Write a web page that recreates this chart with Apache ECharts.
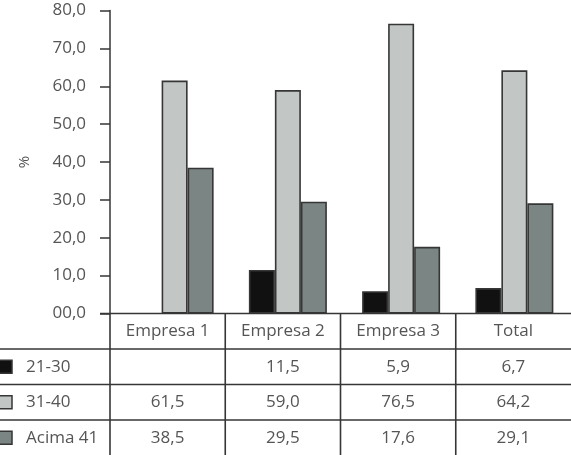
<!DOCTYPE html>
<html><head><meta charset="utf-8">
<script src="https://cdn.jsdelivr.net/npm/echarts@6/dist/echarts.min.js"></script>
<style>html,body{margin:0;padding:0;background:#fff}#c{width:571px;height:455px}</style>
</head><body><div id="c"></div>
<script>
const categories = ['Empresa 1','Empresa 2','Empresa 3','Total'];
const seriesNames = ['21-30','31-40','Acima 41'];
const s2130 = [null, 11.5, 5.9, 6.7];
const s3140 = [61.5, 59.0, 76.5, 64.2];
const sAcima = [38.5, 29.5, 17.6, 29.1];
const yTickLabels = ['00,0','10,0','20,0','30,0','40,0','50,0','60,0','70,0','80,0'];
const colors = ['#111111','#c2c7c6','#7b8684'];

const fmt = v => v == null ? '' : v.toFixed(1).replace('.', ',');
const FONT = 'Open Sans';
const TXT = '#555';
const LINE = '#363636';

const chart = echarts.init(document.getElementById('c'), null, {renderer:'canvas'});
const allSeries = [s2130, s3140, sAcima];

const W = 571, H = 455;
const plotTop = 10.5, plotBottom = 313.5, axisX = 110;
const rowH = 35.5;

const option = {
  animation:false,
  backgroundColor:'#fff',
  grid:{left:118, top:plotTop, width:461, height:plotBottom-plotTop, containLabel:false},
  xAxis:{type:'category', data:categories, axisLine:{show:false}, axisTick:{show:false}, axisLabel:{show:false}},
  yAxis:{type:'value', min:0, max:80, interval:10, offset:8,
    name:'%', nameLocation:'middle', nameGap:78, nameRotate:90,
    nameTextStyle:{color:TXT, fontFamily:FONT, fontSize:15},
    axisLine:{show:true, lineStyle:{color:LINE, width:1.5}},
    axisTick:{show:true, length:10, lineStyle:{color:LINE, width:1.5}},
    axisLabel:{margin:24, color:TXT, fontFamily:FONT, fontSize:17,
      formatter:(v)=>yTickLabels[Math.round(v/10)]},
    splitLine:{show:false}},
  series: allSeries.map((d,i)=>({
    name:seriesNames[i], type:'bar', data:d, barWidth:26, barGap:'0%',
    itemStyle:{color:colors[i], borderColor:LINE, borderWidth:1.6}
  }))
};
chart.setOption(option);

// table
const g = [];
const colW = (W - axisX)/categories.length;
const lineStyle = {stroke:LINE, lineWidth:1.6};
g.push({type:'line', shape:{x1:100, y1:plotBottom, x2:W, y2:plotBottom}, style:lineStyle, z:10});
for (let i=0;i<categories.length;i++){
  const x = axisX + i*colW;
  g.push({type:'line', shape:{x1:x, y1:plotBottom, x2:x, y2:H}, style:lineStyle, z:10});
}
for (let r=1;r<=3;r++){
  const y = plotBottom + r*rowH;
  g.push({type:'line', shape:{x1:0, y1:y, x2:W, y2:y}, style:lineStyle, z:10});
}
categories.forEach((c,i)=>{
  g.push({type:'text', x:axisX + (i+0.5)*colW, y:plotBottom + 0.5*rowH,
    style:{text:c, fill:TXT, font:'17px "'+FONT+'"', align:'center', verticalAlign:'middle'}, z:10});
});
seriesNames.forEach((n,r)=>{
  const yc = plotBottom + (r+1.5)*rowH;
  g.push({type:'rect', shape:{x:-1, y:yc-6.5, width:13, height:13},
    style:{fill:colors[r], stroke:LINE, lineWidth:1.5}, z:10});
  g.push({type:'text', x:26, y:yc,
    style:{text:n, fill:TXT, font:'17px "'+FONT+'"', align:'left', verticalAlign:'middle'}, z:10});
  allSeries[r].forEach((v,i)=>{
    g.push({type:'text', x:axisX + (i+0.5)*colW, y:yc,
      style:{text:fmt(v), fill:TXT, font:'17px "'+FONT+'"', align:'center', verticalAlign:'middle'}, z:10});
  });
});
chart.setOption({graphic:g});
</script></body></html>
